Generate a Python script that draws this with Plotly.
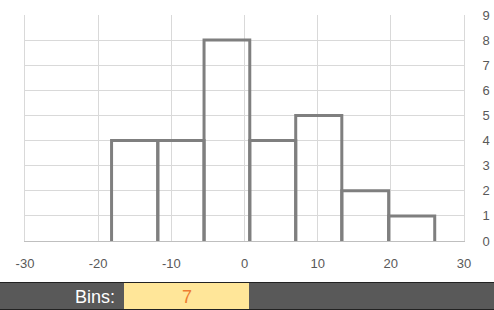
import plotly.graph_objects as go

# ---- data ----
bin_edges = [-18.17, -11.85, -5.53, 0.72, 7.0, 13.3, 19.7, 26.0]
counts = [4, 4, 8, 4, 5, 2, 1]
x_ticks = [-30, -20, -10, 0, 10, 20, 30]
y_ticks = list(range(0, 10))
bins_label = "Bins:"
bins_value = "7"

W, H = 494, 310
L, R, T, B = 25, 464, 15, 241  # plot area in pixels

def px(xp):
    return (xp - L) / (R - L)

def py(yp):
    return (B - yp) / (B - T)

fig = go.Figure()
for i, c in enumerate(counts):
    l, r = bin_edges[i], bin_edges[i + 1]
    fig.add_trace(go.Scatter(
        x=[l, l, r, r], y=[0, c, c, 0], mode="lines",
        line=dict(color="#7f7f7f", width=3), showlegend=False,
        hoverinfo="skip", cliponaxis=False))

font_tick = dict(family="Liberation Sans, Arial, sans-serif", size=13, color="#595959")

fig.update_layout(
    width=W, height=H,
    margin=dict(l=L, r=W - R, t=T, b=H - B, pad=0, autoexpand=False),
    paper_bgcolor="white", plot_bgcolor="white",
    xaxis=dict(range=[-30, 30], tickvals=x_ticks, ticktext=[str(v) for v in x_ticks],
               showgrid=True, gridcolor="#d9d9d9", gridwidth=1, zeroline=False,
               showline=True, linecolor="#bfbfbf", linewidth=1, automargin=False,
               ticks="", tickfont=font_tick, ticklabelstandoff=10),
    yaxis=dict(range=[0, 9], tickvals=y_ticks, side="right",
               showgrid=True, gridcolor="#d9d9d9", gridwidth=1, zeroline=False,
               showline=True, mirror=True, linecolor="#d9d9d9", linewidth=1, automargin=False,
               ticks="", tickfont=font_tick, ticklabelstandoff=15),
    shapes=[
        dict(type="rect", xref="paper", yref="paper", x0=px(0), x1=px(W), y0=py(282), y1=py(311),
             fillcolor="#595959", line=dict(width=0), layer="above"),
        dict(type="line", xref="paper", yref="paper", x0=px(0), x1=px(W), y0=py(282.5), y1=py(282.5),
             line=dict(color="#222222", width=1), layer="above"),
        dict(type="rect", xref="paper", yref="paper", x0=px(124), x1=px(249), y0=py(283), y1=py(309),
             fillcolor="#FFE699", line=dict(width=0), layer="above"),
        dict(type="line", xref="paper", yref="paper", x0=px(0), x1=px(W), y0=py(309.5), y1=py(309.5),
             line=dict(color="#222222", width=1), layer="above"),
    ],
    annotations=[
        dict(text=bins_label, xref="paper", yref="paper", x=px(117), y=py(297),
             xanchor="right", yanchor="middle", showarrow=False,
             font=dict(family="Liberation Sans, Arial, sans-serif", size=18, color="white")),
        dict(text=bins_value, xref="paper", yref="paper", x=px(187), y=py(297),
             xanchor="center", yanchor="middle", showarrow=False,
             font=dict(family="Liberation Sans, Arial, sans-serif", size=18, color="#ED7D31")),
    ],
)

fig.write_html("out.html")
